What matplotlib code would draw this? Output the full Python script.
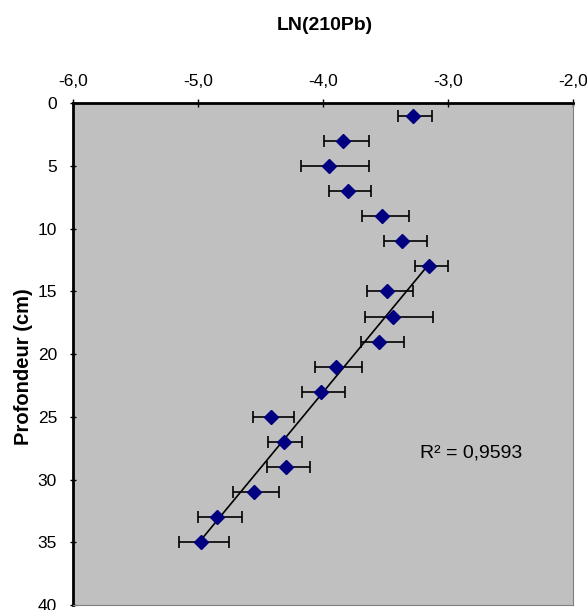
import matplotlib
matplotlib.use("Agg")
import matplotlib.pyplot as plt
import numpy as np

plt.rcParams["font.family"] = ["Liberation Sans", "DejaVu Sans"]

# depth (cm) and ln(210Pb) with error bar ends
depth = [1, 3, 5, 7, 9, 11, 13, 15, 17, 19, 21, 23, 25, 27, 29, 31, 33, 35]
ln_pb = [-3.278, -3.842, -3.952, -3.802, -3.528, -3.368, -3.152, -3.485, -3.442,
         -3.552, -3.896, -4.018, -4.419, -4.312, -4.299, -4.554, -4.848, -4.976]
err_low = [-3.40, -3.994, -4.178, -3.954, -3.686, -3.512, -3.266, -3.650, -3.661,
           -3.696, -4.067, -4.165, -4.560, -4.437, -4.448, -4.720, -5.002, -5.150]
err_high = [-3.13, -3.634, -3.634, -3.613, -3.314, -3.170, -2.998, -3.280, -3.122,
            -3.354, -3.686, -3.822, -4.229, -4.165, -4.104, -4.350, -4.646, -4.754]
fit_from = 6  # trendline uses points from 13 cm down
r2_label = "R² = 0,9593"
x_ticks = [-6.0, -5.0, -4.0, -3.0, -2.0]
y_ticks = [0, 5, 10, 15, 20, 25, 30, 35, 40]

x = np.array(ln_pb)
y = np.array(depth)
xerr = [x - np.array(err_low), np.array(err_high) - x]

fig = plt.figure(figsize=(5.87, 6.10), dpi=100)
ax = fig.add_axes([0.1244, 0.0082, 0.8518, 0.8225])
ax.set_facecolor("#c0c0c0")

ax.errorbar(x, y, xerr=xerr, fmt="none", ecolor="black", elinewidth=1.2,
            capsize=4, capthick=1.2, zorder=2)
ax.plot(x, y, linestyle="none", marker="D", markersize=7,
        markerfacecolor="#000080", markeredgecolor="#000080", zorder=3)

xf, yf = x[fit_from:], y[fit_from:]
slope, icpt = np.polyfit(xf, yf, 1)
xl = np.array([xf.min(), xf.max()])
ax.plot(xl, slope * xl + icpt, color="black", linewidth=1.2, zorder=2.5)

ax.text(-3.224, 27.9, r2_label, fontsize=14, va="center", ha="left")

ax.set_xlim(-6, -2)
ax.set_ylim(40, 0)
ax.set_xticks(x_ticks)
ax.set_xticklabels([f"{v:.1f}".replace(".", ",") for v in x_ticks])
ax.set_yticks(y_ticks)
ax.xaxis.tick_top()
ax.tick_params(axis="x", direction="inout", length=6, width=1, labelsize=12.5, pad=7)
ax.tick_params(axis="y", direction="inout", length=5, width=1, labelsize=12.5, pad=9)

ax.spines["top"].set_linewidth(2)
ax.spines["left"].set_linewidth(2)
ax.spines["right"].set_color("#808080")
ax.spines["bottom"].set_color("#808080")

ax.set_ylabel("Profondeur (cm)", fontsize=14.5, fontweight="bold")
ax.yaxis.set_label_coords(-0.08, 0.476)
fig.text(0.554, 0.959, "LN(210Pb)", fontsize=14, fontweight="bold",
         ha="center", va="center")

fig.savefig("out.png", dpi=100)
